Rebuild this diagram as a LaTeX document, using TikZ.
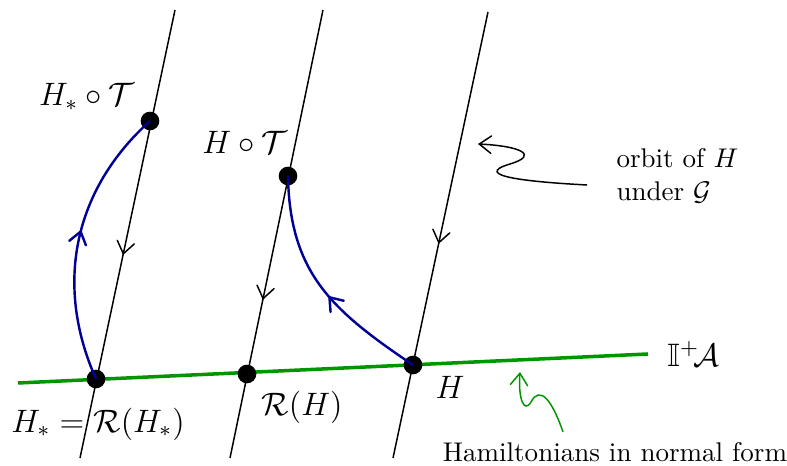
\documentclass[tikz,border=0pt]{standalone}
\usepackage{amsmath,amssymb}
\usetikzlibrary{arrows.meta,decorations.markings}
\definecolor{flowblue}{RGB}{0,0,150}
\definecolor{nfgreen}{RGB}{0,150,0}

\begin{document}
\begin{tikzpicture}[x=0.37pt,y=-0.37pt,
  dot/.style={circle,fill=black,inner sep=0pt,minimum size=6.9pt},
  lbl/.style={font=\large,inner sep=1pt},
  cmtip/.tip={Straight Barb[length=4.4pt,width=6.4pt,line cap=round]},
  midarrow/.style={decoration={markings,mark=at position #1 with {\arrow{cmtip}}},postaction={decorate}},
  orbitline/.style={line width=0.55pt,midarrow=#1},
  flow/.style={flowblue,line width=0.9pt,midarrow=#1},
  nfline/.style={nfgreen,line width=1.3pt}]
\useasboundingbox (0,0) rectangle (787,466);
% orbits of the group action
\coordinate (t1) at (175,10);\coordinate (b1) at (80,458);
\coordinate (t2) at (323,10);\coordinate (b2) at (230,458);
\coordinate (t3) at (488,12);\coordinate (b3) at (393,458);
\draw[orbitline=0.547] (t1) -- (b1);
\draw[orbitline=0.647] (t2) -- (b2);
\draw[orbitline=0.52] (t3) -- (b3);
% normal form
\coordinate (nf1) at (18,383);\coordinate (nf2) at (648,354);
\draw[nfline] (nf1) -- (nf2);
\node[lbl, right=6pt] (ia) at (nf2) {$\mathbb{I}^{+}\!\mathcal{A}$};
% points
\node[dot] (hs) at (96,379) {};
\node[dot] (hst) at (150,121) {};
\node[dot] (rh) at (247,374) {};
\node[dot] (ht) at (288,176) {};
\node[dot] (h) at (413,365) {};
\draw[flow=0.54] (hs.center) to[out=114,in=222] (hst.center);
\draw[flow=0.46] (h.center) to[out=146,in=-89,looseness=1.1] (ht.center);
% labels
\node[lbl] (lhst) at (87,97) {$H_*\circ\mathcal{T}$};
\node[lbl] (lht) at (245,142) {$H\circ\mathcal{T}$};
\node[lbl] (lhs) at (98,424) {$H_*=\mathcal{R}(H_*)$};
\node[lbl] (lrh) at (302,407) {$\mathcal{R}(H)$};
\node[lbl] (lh) at (450,387) {$H$};
\node[align=left, anchor=west] (orb) at (607,176) {orbit of $H$\\under $\mathcal{G}$};
\node (nfl) at (615,452) {Hamiltonians in normal form};
\coordinate (os) at (587,185);\coordinate (oe) at (478,144);
\draw[line width=0.55pt,-cmtip] (os) .. controls (530,182) and (470,176) .. (510,164) .. controls (540,155) and (520,146) .. (oe);
\coordinate (gs) at (563,432);\coordinate (ge) at (520,372);
\draw[nfgreen,line width=0.55pt,-cmtip] (gs) .. controls (552,400) and (540,385) .. (531,402) .. controls (524,414) and (518,398) .. (ge);
\end{tikzpicture}
\end{document}
